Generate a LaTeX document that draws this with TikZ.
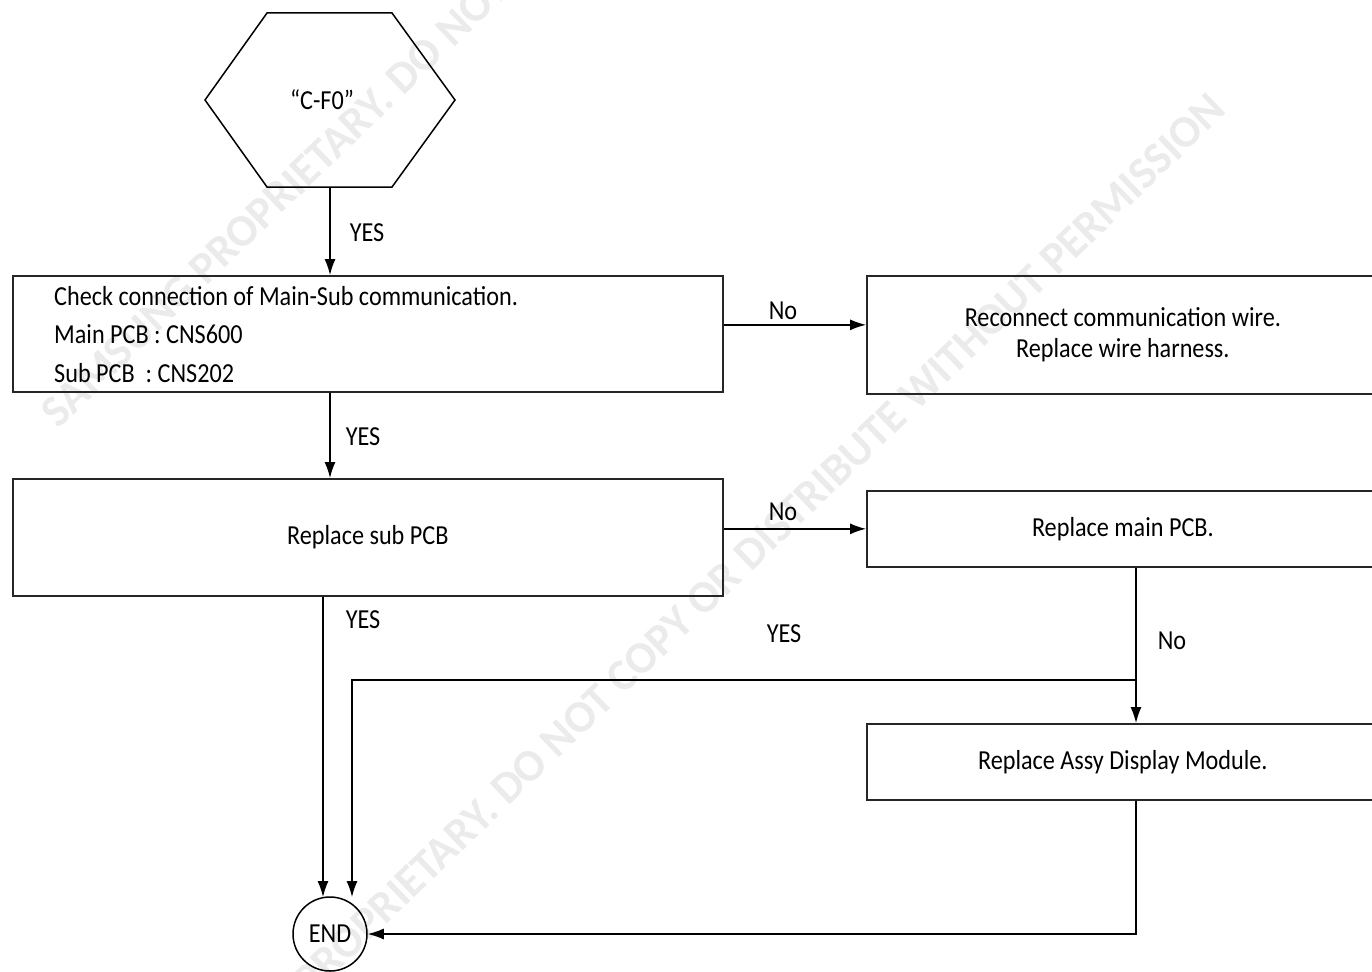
\documentclass[tikz,border=0pt]{standalone}
\usepackage{fontspec}
\setmainfont{Carlito}[FakeStretch=0.88]
\newfontfamily\wmfont{Carlito}
\usetikzlibrary{arrows.meta}
\begin{document}
\begin{tikzpicture}[x=1pt,y=-1pt,
  box/.style={draw=black!85,line width=1.7pt,inner sep=0pt,anchor=north west,align=center,font=\fontsize{27.5}{31}\selectfont},
  lbl/.style={font=\fontsize{27.5}{30}\selectfont,inner sep=0pt},
  arr/.style={line width=1.3pt,-{Latex[length=16pt,width=11pt]}},
  ln/.style={line width=1.3pt},
  wm/.style={text=black!8,font=\wmfont\fontsize{45}{45}\selectfont\bfseries,inner sep=0pt,rotate=44}]
\useasboundingbox (0,0) rectangle (1372,971);
% watermark
\begin{scope}
\clip (0,0) rectangle (1372,971);
\node[wm,anchor=base west] (wm1) at (58,430) {SAMSUNG PROPRIETARY. DO NOT COPY OR DISTRIBUTE WITHOUT PERMISSION};
\node[wm,anchor=base east] (wm2) at (1228,112) {SAMSUNG PROPRIETARY. DO NOT COPY OR DISTRIBUTE WITHOUT PERMISSION};
\end{scope}
% start hexagon
\node[lbl] (start) at (322,100) {“C-F0”};
\draw[line width=1.5pt] (205,100) -- (267,13) -- (392,13) -- (455,100) -- (392,187) -- (267,187) -- cycle;
\coordinate (hexbot) at (330,187);
% boxes
\node[box,minimum width=710pt,minimum height=116pt] (b1) at (12,275) {};
\node[lbl,anchor=base west] (b1a) at (54,305) {Check connection of Main-Sub communication.};
\node[lbl,anchor=base west] (b1b) at (54,343) {Main PCB : CNS600};
\node[lbl,anchor=base west] (b1c) at (54,382) {Sub PCB\ \ : CNS202};
\node[box,minimum width=512pt,minimum height=118pt] (b2) at (866,275) {Reconnect communication wire.\\Replace wire harness.};
\node[box,minimum width=710pt,minimum height=117pt] (b3) at (12,478) {Replace sub PCB};
\node[box,minimum width=512pt,minimum height=76pt] (b4) at (866,490) {Replace main PCB.};
\node[box,minimum width=512pt,minimum height=76pt] (b5) at (866,723) {Replace Assy Display Module.};
\node[draw,circle,line width=1.5pt,minimum size=74pt,inner sep=0pt,font=\fontsize{27.5}{30}\selectfont] (end) at (330,934) {END};
% helper coordinates
\coordinate (endtopL) at (323,897);
\coordinate (endtopR) at (352,897);
\coordinate (br) at (1136,680);
\coordinate (ret) at (1136,934);
% connectors
\draw[arr] (hexbot) -- (b1.north -| hexbot);
\draw[arr] (b1.south -| hexbot) -- (b3.north -| hexbot);
\draw[arr] ([yshift=9pt]b1.east) -- ([yshift=9pt]b1.east -| b2.west);
\draw[arr] ([yshift=8.5pt]b3.east) -- ([yshift=8.5pt]b3.east -| b4.west);
\draw[arr] (b3.south -| endtopL) -- (endtopL);
\draw[ln] (b4.south -| br) -- (br);
\draw[arr] (br) -- (b5.north -| br);
\draw[arr] (br) -| (endtopR);
\draw[arr] (b5.south -| ret) -- (ret) -- (end);
% labels
\node[lbl] (yes1) at (367,233) {YES};
\node[lbl] (yes2) at (363,437) {YES};
\node[lbl] (yes3) at (363,620) {YES};
\node[lbl] (yes4) at (784,634) {YES};
\node[lbl] (no1) at (783,311) {No};
\node[lbl] (no2) at (783,512) {No};
\node[lbl] (no3) at (1172,641) {No};
\end{tikzpicture}
\end{document}
